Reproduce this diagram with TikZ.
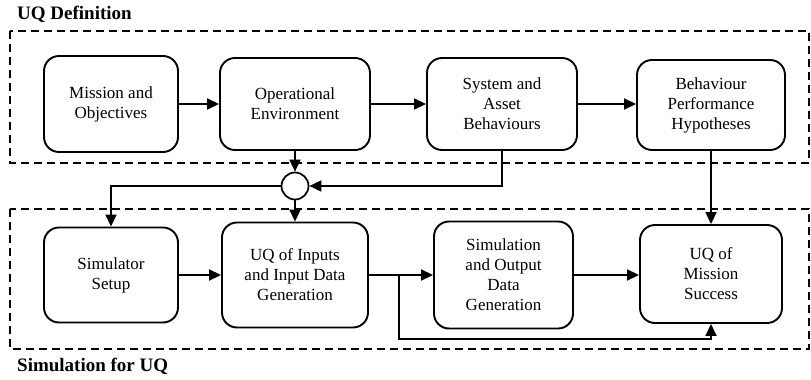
\documentclass[tikz,border=0pt]{standalone}
\usepackage{fontspec}
\setmainfont{Liberation Serif}
\usepackage{tikz}
\usetikzlibrary{arrows.meta,calc}
\tikzset{
  blk/.style={draw, line width=1.9pt, rounded corners=15pt, align=center,
    inner sep=2pt, font=\fontsize{17}{20}\selectfont},
  junc/.style={draw, circle, line width=1.7pt, minimum size=27pt, inner sep=0pt},
  arr/.style={line width=1.8pt, -{Triangle[length=12pt,width=11pt]}},
  grp/.style={line width=1.7pt, dash pattern=on 8pt off 5pt},
  ttl/.style={font=\fontsize{19}{20}\selectfont\bfseries, anchor=west, inner sep=0pt},
}
\begin{document}
\begin{tikzpicture}[x=1pt,y=-1pt]
  \useasboundingbox (0,0) rectangle (811,380);

  % groups
  \draw[grp] (10,31) rectangle (809,163);
  \draw[grp] (10,209) rectangle (809,349);
  \node[ttl] (tdef) at (17,14) {UQ Definition};
  \node[ttl] (tsim) at (17,366) {Simulation for UQ};

  % definition row
  \node[blk, minimum width=134pt, minimum height=96pt] (mis) at (111,104) {Mission and\\Objectives};
  \node[blk, minimum width=150pt, minimum height=92pt] (ope) at (295,104) {Operational\\Environment};
  \node[blk, minimum width=150pt, minimum height=92pt] (sys) at (502,104) {System and\\Asset\\Behaviours};
  \node[blk, minimum width=148pt, minimum height=90pt] (beh) at (711,105) {Behaviour\\Performance\\Hypotheses};

  \node[junc] (jn) at (295,186) {};

  % simulation row
  \node[blk, minimum width=134pt, minimum height=95pt] (sim) at (111,275) {Simulator\\Setup};
  \node[blk, minimum width=146pt, minimum height=105pt] (inp) at (295,275) {UQ of Inputs\\and Input Data\\Generation};
  \node[blk, minimum width=139pt, minimum height=107pt] (out) at (503.5,275) {Simulation\\and Output\\Data\\Generation};
  \node[blk, minimum width=142pt, minimum height=98pt] (suc) at (711,274) {UQ of\\Mission\\Success};

  \coordinate (br) at (399,275);
  \coordinate (lo) at (399,339);

  \draw[arr] (mis.east) -- (ope.west);
  \draw[arr] (ope.east) -- (sys.west);
  \draw[arr] (sys.east) -- (sys.east -| beh.west);
  \draw[arr] (ope.south) -- (jn.north);
  \draw[arr] (sys.south) |- (jn.east);
  \draw[arr] (jn.west) -| (sim.north);
  \draw[arr] (jn.south) -- (inp.north);
  \draw[arr] (beh.south) -- (suc.north);

  \draw[arr] (sim.east) -- (inp.west);
  \draw[arr] (inp.east) -- (out.west);
  \draw[arr] (out.east) -- (out.east -| suc.west);
  \draw[arr] (br) -- (lo) -| (suc.south);
\end{tikzpicture}
\end{document}
